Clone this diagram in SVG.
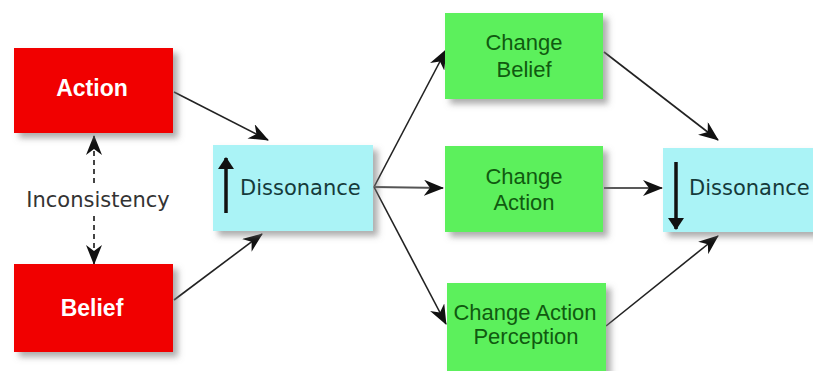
<svg xmlns="http://www.w3.org/2000/svg" width="813" height="371" viewBox="0 0 813 371">
<style>
.red{fill:#f10000}
.cyan{fill:#aaf3f6}
.green{fill:#5cf05c}
.bt{font-family:"Liberation Sans",Arial,sans-serif;font-weight:bold;font-size:23px;fill:#fff;text-anchor:middle}
.gt{font-family:"Liberation Sans",Arial,sans-serif;font-size:22px;fill:#105a10;text-anchor:middle}
.dt{font-family:"DejaVu Sans",sans-serif;font-size:21px;fill:#153a3a}
.it{font-family:"DejaVu Sans",sans-serif;font-size:21px;fill:#333;text-anchor:middle}
.con{stroke:#222;stroke-width:1.6;fill:none;marker-end:url(#ah)}
</style>
<defs>
<filter id="sh" x="-10%" y="-10%" width="130%" height="140%">
<feDropShadow dx="5" dy="5" stdDeviation="3" flood-color="#777" flood-opacity="0.6"/>
</filter>
<marker id="ah" viewBox="0 0 20 16" refX="19" refY="8" markerWidth="20" markerHeight="16" markerUnits="userSpaceOnUse" orient="auto">
<path d="M0,0 L20,8 L0,16 L6,8 z" fill="#111"/>
</marker>
<marker id="ab" viewBox="0 0 12 16" refX="11" refY="8" markerWidth="12" markerHeight="16" markerUnits="userSpaceOnUse" orient="auto">
<path d="M0,0 L12,8 L0,16 z" fill="#111"/>
</marker>
</defs>
<rect width="813" height="371" fill="#fff"/>
<g id="connectors">
<line class="con" x1="174" y1="92" x2="268" y2="140"/>
<line class="con" x1="174" y1="300" x2="262" y2="234"/>
<line class="con" x1="374" y1="187" x2="446" y2="50"/>
<line class="con" x1="374" y1="187" x2="443" y2="188" style="stroke:#555;stroke-width:2.2"/>
<line class="con" x1="374" y1="187" x2="446" y2="324"/>
<line class="con" x1="604" y1="52" x2="718" y2="140"/>
<line class="con" x1="604" y1="188" x2="662" y2="188"/>
<line class="con" x1="606" y1="326" x2="718" y2="236"/>
<line x1="94" y1="183" x2="94" y2="136" stroke="#444" stroke-width="2" stroke-dasharray="5,4" marker-end="url(#ah)"/>
<line x1="94" y1="216" x2="94" y2="264" stroke="#444" stroke-width="2" stroke-dasharray="5,4" marker-end="url(#ah)"/>
</g>
<g id="action">
<rect class="red" x="14" y="48" width="159" height="85" filter="url(#sh)"/>
<text class="bt" x="92" y="96">Action</text>
</g>
<g id="belief">
<rect class="red" x="14" y="264" width="159" height="88" filter="url(#sh)"/>
<text class="bt" x="92" y="316">Belief</text>
</g>
<g id="inconsistency">
<text class="it" x="98" y="207">Inconsistency</text>
</g>
<g id="dissonance-up">
<rect class="cyan" x="213" y="145" width="160" height="86" filter="url(#sh)"/>
<line x1="226" y1="213" x2="226" y2="158" stroke="#111" stroke-width="3.5" marker-end="url(#ab)"/>
<text class="dt" x="240" y="195">Dissonance</text>
</g>
<g id="change-belief">
<rect class="green" x="445" y="13" width="158" height="86" filter="url(#sh)"/>
<text class="gt" x="524" y="50">Change</text>
<text class="gt" x="524" y="77">Belief</text>
</g>
<g id="change-action">
<rect class="green" x="445" y="146" width="158" height="86" filter="url(#sh)"/>
<text class="gt" x="524" y="184">Change</text>
<text class="gt" x="524" y="210">Action</text>
</g>
<g id="change-action-perception">
<rect class="green" x="447" y="283" width="159" height="90" filter="url(#sh)"/>
<text class="gt" x="525" y="320">Change Action</text>
<text class="gt" x="526" y="344">Perception</text>
</g>
<g id="dissonance-down">
<rect class="cyan" x="663" y="148" width="160" height="84" filter="url(#sh)"/>
<line x1="676" y1="162" x2="676" y2="229" stroke="#111" stroke-width="3.5" marker-end="url(#ab)"/>
<text class="dt" x="689" y="195">Dissonance</text>
</g>
</svg>
